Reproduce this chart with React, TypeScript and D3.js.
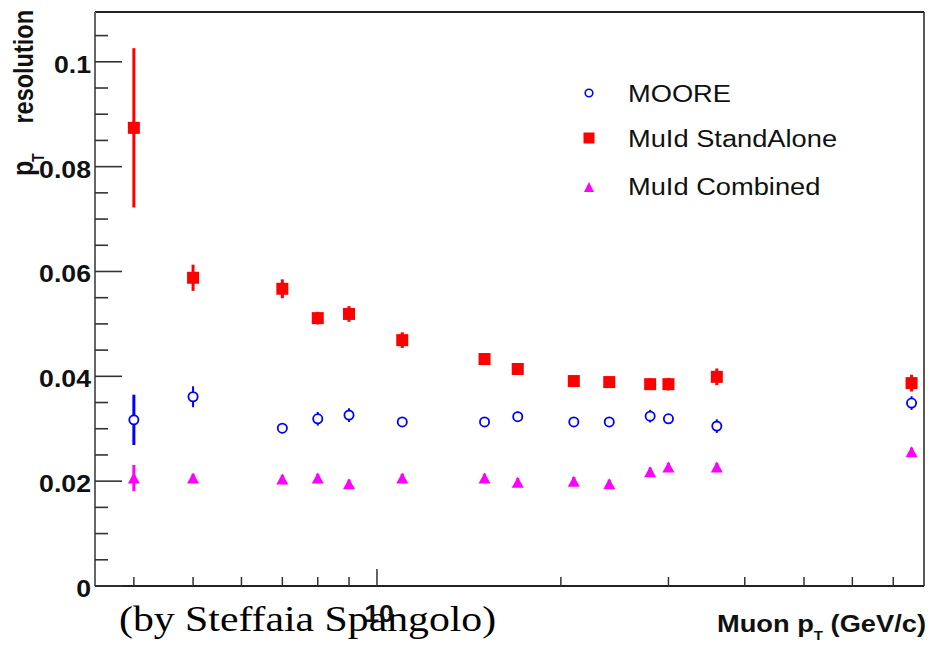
import React from "react";
import * as d3 from "d3";

// ---- data ----
const ptValues = [4, 5, 7, 8, 9, 11, 15, 17, 21, 24, 28, 30, 36, 75];

const mooreRes = [0.0317, 0.0361, 0.0301, 0.0319, 0.0326, 0.0313, 0.0313, 0.0323, 0.0313, 0.0313, 0.0324, 0.0319, 0.0305, 0.0349];
const mooreErr = [0.0048, 0.002, 0.0006, 0.0013, 0.0013, 0.0008, 0.0008, 0.001, 0.0008, 0.0008, 0.0012, 0.0008, 0.0013, 0.0013];

const standAloneRes = [0.0874, 0.0588, 0.0567, 0.0511, 0.0519, 0.0469, 0.0433, 0.0414, 0.0391, 0.0389, 0.0385, 0.0385, 0.0399, 0.0387];
const standAloneErr = [0.0152, 0.0025, 0.0018, 0.0012, 0.0015, 0.0015, 0.0011, 0.0011, 0.001, 0.0011, 0.0011, 0.0012, 0.0016, 0.0016];

const combinedRes = [0.0206, 0.0206, 0.0204, 0.0206, 0.0195, 0.0206, 0.0206, 0.0198, 0.02, 0.0195, 0.0218, 0.0227, 0.0227, 0.0256];
const combinedErr = [0.0025, 0.0008, 0.0008, 0.0008, 0.0008, 0.0008, 0.0008, 0.0008, 0.0008, 0.0008, 0.0008, 0.0008, 0.0008, 0.0008];

const yTickLabels = ["0", "0.02", "0.04", "0.06", "0.08", "0.1"];
const xMinorTicks = [4, 5, 6, 7, 8, 9, 20, 30, 40, 50, 60, 70];
const xMajorTicks = [10];
const legendLabels = ["MOORE", "MuId StandAlone", "MuId Combined"];

// ---- layout ----
const W = 928;
const H = 646;
const left = 95;
const right = 924;
const top = 12;
const bottom = 586;
const SX = 1.16; // horizontal stretch of the reference image
const sans = "'Liberation Sans', Arial, Helvetica, sans-serif";
const serif = "'Liberation Serif', 'Times New Roman', serif";

const BLUE = "#0000ff";
const RED = "#ff0000";
const MAGENTA = "#ff00ff";

export default function App() {
  const x = d3.scaleLog().domain([3.455, 78.6]).range([left, right]);
  const y = d3.scaleLinear().domain([0, 0.1095]).range([bottom, top]);

  const yMinor = d3.range(0, 0.1096, 0.005);
  const yMajor = yTickLabels.map((t) => +t);

  const tri = (w: number, h: number) => `M0,${-h / 2} L${w / 2},${h / 2} L${-w / 2},${h / 2} Z`;

  const errBar = (i: number, vals: number[], errs: number[], color: string, w: number) => (
    <line
      key={"e" + i}
      x1={x(ptValues[i])}
      x2={x(ptValues[i])}
      y1={y(vals[i] + errs[i])}
      y2={y(vals[i] - errs[i])}
      stroke={color}
      strokeWidth={w}
    />
  );

  const legendRows = [93, 138, 187];
  const legendBase = [102, 147, 195];

  return (
    <svg
      width={W}
      height={H}
      style={{ position: "absolute", left: 0, top: 0, background: "#fff" }}
    >
      <rect x={0} y={0} width={W} height={H} fill="#fff" />

      {/* frame */}
      <line x1={left} x2={right} y1={top} y2={top} stroke="#222" strokeWidth={2} />
      <line x1={right} x2={right} y1={top} y2={bottom} stroke="#222" strokeWidth={1.5} />
      <line x1={left} x2={left} y1={top} y2={bottom} stroke="#666" strokeWidth={2} />
      <line x1={left} x2={right} y1={bottom} y2={bottom} stroke="#222" strokeWidth={2} />

      {/* y ticks */}
      {yMinor.map((v, i) => {
        const isMajor = yMajor.some((m) => Math.abs(m - v) < 1e-6);
        return (
          <line
            key={"yt" + i}
            x1={left}
            x2={left + (isMajor ? 27 : 13)}
            y1={y(v)}
            y2={y(v)}
            stroke="#333"
            strokeWidth={1.6}
          />
        );
      })}
      {yTickLabels.map((t) => (
        <text
          key={"yl" + t}
          transform={`translate(91,${y(+t) + 11}) scale(${SX},1)`}
          textAnchor="end"
          fontFamily={sans}
          fontWeight="bold"
          fontSize={23}
          fill="#111"
        >
          {t}
        </text>
      ))}

      {/* x ticks */}
      {xMinorTicks.map((v) => (
        <line key={"xm" + v} x1={x(v)} x2={x(v)} y1={bottom} y2={bottom - 9} stroke="#333" strokeWidth={1.5} />
      ))}
      {xMajorTicks.map((v) => (
        <line key={"xM" + v} x1={x(v)} x2={x(v)} y1={bottom} y2={bottom - 17} stroke="#333" strokeWidth={1.5} />
      ))}

      {/* overlay note */}
      <text
        transform={`translate(119,631) scale(${SX},1)`}
        fontFamily={serif}
        fontSize={36}
        fill="#000"
      >
        (by Steffaia Spangolo)
      </text>

      {xMajorTicks.map((v) => (
        <text
          key={"xl" + v}
          transform={`translate(${x(v) + 2},622) scale(${SX},1)`}
          textAnchor="middle"
          fontFamily={sans}
          fontWeight="bold"
          fontSize={23}
          fill="#111"
        >
          {v}
        </text>
      ))}

      {/* x title */}
      <text
        transform={`translate(926,632) scale(${SX},1)`}
        textAnchor="end"
        fontFamily={sans}
        fontWeight="bold"
        fontSize={23.5}
        fill="#111"
      >
        Muon p
        <tspan fontSize={13} dy={8}>T</tspan>
        <tspan dy={-8}> (GeV/c)</tspan>
      </text>

      {/* y title */}
      <text
        transform={`translate(33,10) rotate(-90) scale(1,${SX})`}
        textAnchor="end"
        fontFamily={sans}
        fontWeight="bold"
        fontSize={23.5}
        fill="#111"
      >
        resolution
      </text>
      <text
        transform={`translate(33,176) rotate(-90) scale(1,${SX})`}
        textAnchor="start"
        fontFamily={sans}
        fontWeight="bold"
        fontSize={25}
        fill="#111"
      >
        p
      </text>
      <text
        transform={`translate(44,162) rotate(-90) scale(1,${SX})`}
        textAnchor="start"
        fontFamily={sans}
        fontWeight="bold"
        fontSize={14}
        fill="#111"
      >
        T
      </text>

      {/* MOORE */}
      <g>
        {ptValues.map((_, i) => errBar(i, mooreRes, mooreErr, BLUE, i === 0 ? 3 : 2))}
        {ptValues.map((p, i) => (
          <circle key={"mc" + i} cx={x(p)} cy={y(mooreRes[i])} r={4.6} fill="#fff" stroke={BLUE} strokeWidth={1.8} />
        ))}
      </g>

      {/* MuId StandAlone */}
      <g>
        {ptValues.map((_, i) => errBar(i, standAloneRes, standAloneErr, RED, 3))}
        {ptValues.map((p, i) => (
          <rect key={"sq" + i} x={x(p) - 6} y={y(standAloneRes[i]) - 6} width={12} height={12} fill={RED} />
        ))}
      </g>

      {/* MuId Combined */}
      <g>
        {ptValues.map((_, i) => errBar(i, combinedRes, combinedErr, MAGENTA, 3))}
        {ptValues.map((p, i) => (
          <path key={"tr" + i} d={tri(12, 11)} transform={`translate(${x(p)},${y(combinedRes[i])})`} fill={MAGENTA} />
        ))}
      </g>

      {/* legend */}
      <circle cx={589} cy={legendRows[0]} r={3.8} fill="#fff" stroke={BLUE} strokeWidth={1.6} />
      <rect x={589 - 5.5} y={legendRows[1] - 5.5} width={11} height={11} fill={RED} />
      <path d={tri(10, 10)} transform={`translate(589,${legendRows[2]})`} fill={MAGENTA} />
      {legendLabels.map((l, i) => (
        <text
          key={l}
          transform={`translate(628,${legendBase[i]}) scale(${SX},1)`}
          fontFamily={sans}
          fontSize={23.5}
          fill="#111"
        >
          {l}
        </text>
      ))}
    </svg>
  );
}
